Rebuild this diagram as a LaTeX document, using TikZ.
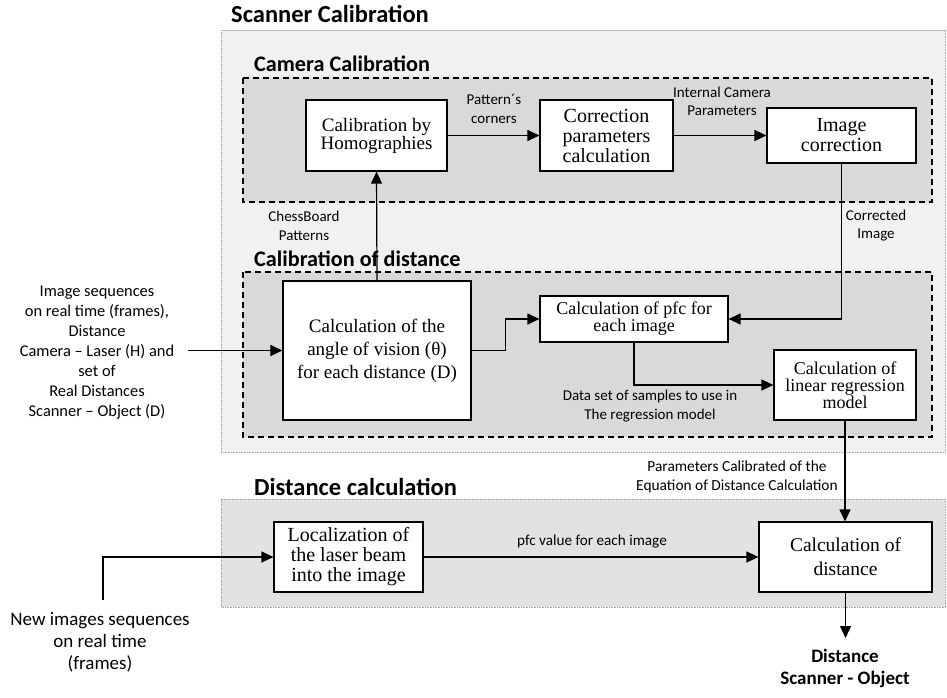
\documentclass[tikz,border=0pt]{standalone}
\usepackage{fontspec}
\setmainfont{Liberation Serif}
\newfontfamily\lab{Carlito}
\usetikzlibrary{arrows.meta}
\definecolor{outerfill}{HTML}{F1F1F1}
\definecolor{innerfill}{HTML}{D9D9D9}
\definecolor{distfill}{HTML}{E2E2E2}
\definecolor{frame}{HTML}{A6A6A6}
\tikzset{
  proc/.style={draw=black, line width=1.2pt, fill=white, align=center, inner sep=2pt},
  arr/.style={line width=1.2pt, -{Triangle[length=12pt,width=11pt]}},
  lbl/.style={align=center, inner sep=0pt, font=\lab\fontsize{15}{18.5}\selectfont},
  inlbl/.style={align=center, inner sep=0pt, font=\lab\fontsize{16.4}{20}\selectfont},
  ttl/.style={anchor=west, inner sep=0pt, font=\lab\bfseries\fontsize{24.5}{26}\selectfont},
  subttl/.style={ttl, font=\lab\bfseries\fontsize{22.2}{24}\selectfont},
  outerbox/.style={draw=frame, line width=0.6pt, densely dotted, fill=outerfill},
  dashbox/.style={draw=black, line width=1.4pt, dash pattern=on 6pt off 4pt, fill=innerfill},
  distbox/.style={draw=frame, line width=0.6pt, densely dotted, fill=distfill}
}
\begin{document}
\begin{tikzpicture}[x=1pt,y=-1pt]
\useasboundingbox (0,0) rectangle (947,698);
% containers
\draw[outerbox] (221,30) rectangle (945,452);
\node[ttl] (tScan) at (231,14) {Scanner Calibration};
\draw[dashbox] (243,78) rectangle (932,202);
\node[subttl] (tCam) at (254,64) {Camera Calibration};
\draw[dashbox] (243,272) rectangle (932,437);
\node[subttl] (tCal) at (254,259) {Calibration of distance};
\draw[distbox] (221,499) rectangle (945,607);
\node[ttl] (tDist) at (254,487) {Distance calculation};
% process boxes
\node[proc, minimum width=141pt, minimum height=71pt, font=\fontsize{19}{18}\selectfont] (homog) at (376.5,135.5) {Calibration by\\Homographies};
\node[proc, minimum width=133pt, minimum height=71pt, font=\fontsize{20}{20}\selectfont] (corr) at (606.5,135.5) {Correction\\parameters\\calculation};
\node[proc, minimum width=149pt, minimum height=55pt, font=\fontsize{20}{20}\selectfont] (imgc) at (841.5,135.5) {Image\\correction};
\node[proc, minimum width=188pt, minimum height=139pt, font=\fontsize{19}{23}\selectfont] (angle) at (377,350.5) {Calculation of the\\angle of vision (θ)\\for each distance (D)};
\node[proc, minimum width=188pt, minimum height=46pt, font=\fontsize{18}{17}\selectfont] (pfc) at (634,319) {Calculation of pfc for\\each image};
\node[proc, minimum width=142pt, minimum height=70pt, font=\fontsize{18}{17}\selectfont] (reg) at (845,385) {Calculation of\\linear regression\\model};
\node[proc, minimum width=149pt, minimum height=70pt, font=\fontsize{20}{20}\selectfont] (loc) at (348.5,557) {Localization of\\the laser beam\\into the image};
\node[proc, minimum width=173pt, minimum height=70pt, font=\fontsize{19.5}{24}\selectfont] (dist) at (845.5,557) {Calculation of\\distance};
% labels
\node[lbl] (lPat) at (494,109) {Pattern´s\\corners};
\node[lbl] (lInt) at (722,101.5) {Internal Camera\\Parameters};
\node[lbl] (lChess) at (304,226) {ChessBoard\\Patterns};
\node[lbl] (lCorr) at (876,225.5) {Corrected\\Image};
\node[lbl] (lData) at (650,406) {Data set of samples to use in\\The regression model};
\node[lbl, font=\lab\fontsize{15.4}{19}\selectfont] (lParam) at (737,476.5) {Parameters Calibrated of the\\Equation of Distance Calculation};
\node[lbl, font=\lab\fontsize{15.2}{19}\selectfont] (lPfc) at (592,542) {pfc value for each image};
\node[inlbl] (inText) at (97,353) {Image sequences\\on real time (frames),\\Distance\\Camera – Laser (H) and\\set of\\Real Distances\\Scanner – Object (D)};
\node[inlbl, font=\lab\fontsize{19}{22}\selectfont] (newText) at (100,642) {New images sequences\\on real time\\(frames)};
\node[align=center, inner sep=0pt, font=\lab\bfseries\fontsize{19}{22}\selectfont] (outText) at (845,668) {Distance\\Scanner - Object};
% connector end points
\coordinate (inA) at (188,350.5);
\coordinate (inB) at (103,600);
\coordinate (outP) at (845.5,638);
% connectors
\draw[arr] (homog) -- (corr);
\draw[arr] (corr) -- (imgc);
\draw[arr] (angle.north) -- (homog.south);
\draw[arr] (imgc.south) |- (pfc.east);
\draw[arr] (angle.east) -- ++(34,0) |- (pfc.west);
\draw[arr] (pfc.south) |- (reg.west);
\draw[arr] (reg.south) -- (reg.south |- dist.north);
\draw[arr] (loc) -- (dist);
\draw[arr] (dist.south) -- (outP);
\draw[arr] (inA) -- (angle.west);
\draw[arr] (inB) |- (loc.west);
\end{tikzpicture}
\end{document}
